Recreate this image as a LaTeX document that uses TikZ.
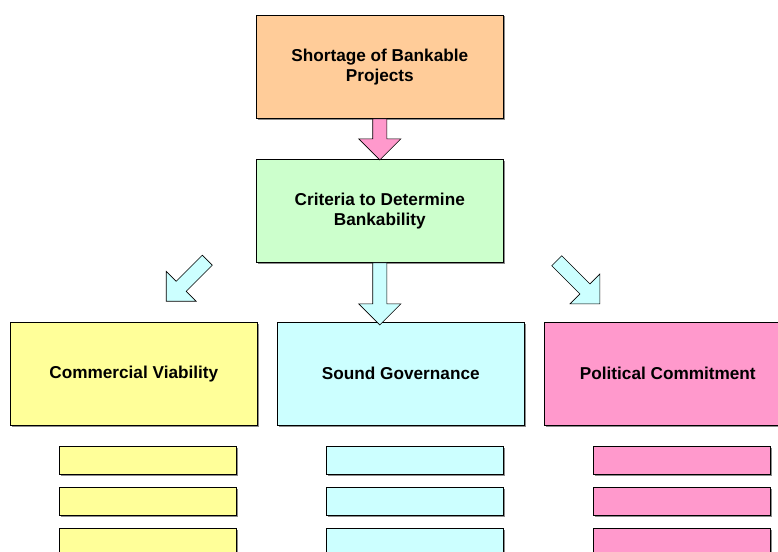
\documentclass[tikz,border=0pt]{standalone}
\usepackage{fontspec}
\setmainfont{Liberation Sans}
\usetikzlibrary{positioning,shapes.arrows,shadows}

\definecolor{peach}{HTML}{FFCC99}
\definecolor{mint}{HTML}{CCFFCC}
\definecolor{lemon}{HTML}{FFFF99}
\definecolor{aqua}{HTML}{CCFFFF}
\definecolor{rose}{HTML}{FF99CC}

\begin{document}
\begin{tikzpicture}[%
        x=1pt,
        y=-1pt,
        bigbox/.style={%
            draw=black, line width=0.6pt,
            anchor=north west,
            minimum width=247pt, minimum height=103pt,
            align=center,
            node font=\fontsize{17.2}{20}\selectfont\bfseries,
            drop shadow={shadow xshift=1.2pt, shadow yshift=-1.2pt, fill=black!45, opacity=1},
        },
        smallbox/.style={%
            draw=black, line width=0.6pt,
            anchor=north west,
            minimum width=177pt, minimum height=28pt,
            drop shadow={shadow xshift=1.2pt, shadow yshift=-1.2pt, fill=black!45, opacity=1},
        },
        blockarrow/.style={%
            single arrow, draw=black, line width=0.6pt,
            inner xsep=0pt, inner ysep=6.8pt,
            single arrow head extend=14pt,
            single arrow tip angle=90,
            anchor=tail,
        },
    ]

    \useasboundingbox (0,0) rectangle (778,551);

    \node (shortage) at (256,15) [bigbox, fill=peach] {Shortage of Bankable\\Projects};
    \node (criteria) at (256,159) [bigbox, fill=mint] {Criteria to Determine\\Bankability};

    \node (commercial) at (10,322) [bigbox, fill=lemon] {Commercial Viability};
    \node (governance) at (277,322) [bigbox, fill=aqua] {Sound Governance};
    \node (political) at (544,322) [bigbox, fill=rose] {Political Commitment};

    % block arrows
    \node (arrow_top) at (shortage.south) [blockarrow, fill=rose, minimum height=41pt, rotate=-90] {};
    \node (arrow_mid) at (criteria.south) [blockarrow, fill=aqua, minimum height=62pt, rotate=-90] {};
    \node (arrow_left) at (207.5,260) [blockarrow, fill=aqua, minimum height=58pt, rotate=-135] {};
    \node (arrow_right) at (556.5,260.5) [blockarrow, fill=aqua, minimum height=61pt, rotate=-45] {};

    % item bars
    \foreach \y [count=\i] in {446,487,528} {%
        \node (commercial_item\i) at (59,\y) [smallbox, fill=lemon] {};
        \node (governance_item\i) at (326,\y) [smallbox, fill=aqua] {};
        \node (political_item\i) at (593,\y) [smallbox, fill=rose] {};
    }
\end{tikzpicture}
\end{document}
